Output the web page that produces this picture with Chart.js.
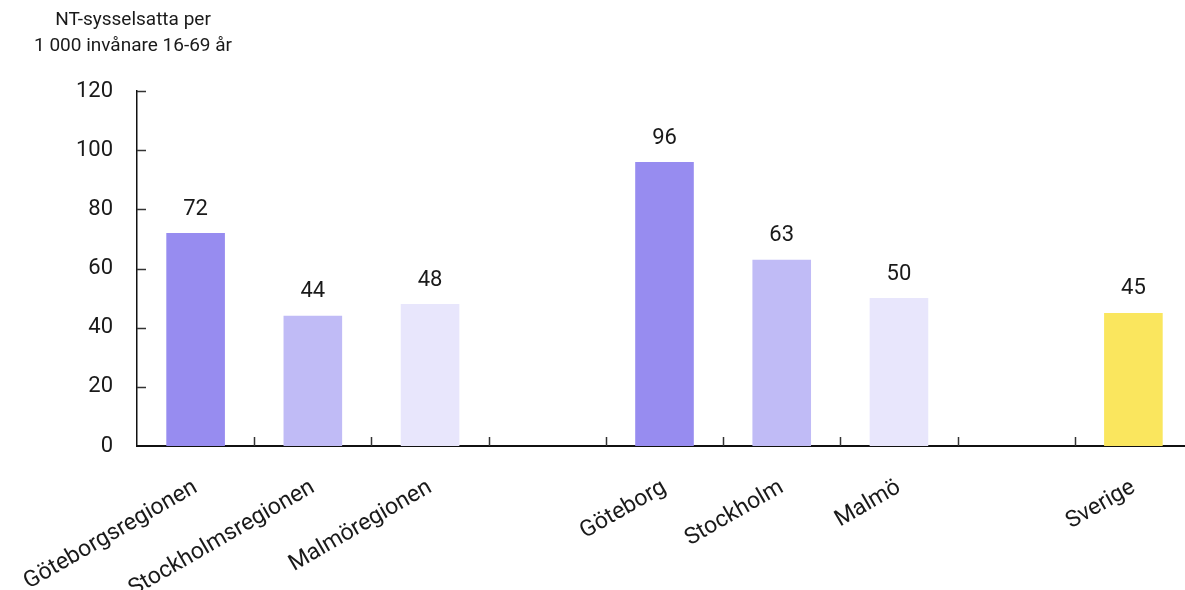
<!DOCTYPE html>
<html>
<head>
<meta charset="utf-8">
<script src="https://cdn.jsdelivr.net/npm/chart.js@4/dist/chart.umd.min.js"></script>
<style>
html,body{margin:0;padding:0;background:#fff;overflow:hidden;}
#wrap{position:relative;width:1192px;height:590px;}
</style>
</head>
<body>
<div id="wrap"><canvas id="c" width="1192" height="590"></canvas></div>
<script>
const categories = ['Göteborgsregionen','Stockholmsregionen','Malmöregionen','','Göteborg','Stockholm','Malmö','','Sverige'];
const values = [72, 44, 48, null, 96, 63, 50, null, 45];
const barColors = ['#978cf0','#c0bbf6','#e8e6fc',null,'#978cf0','#c0bbf6','#e8e6fc',null,'#fae65e'];
const yTitle = ['NT-sysselsatta per','1 000 invånare 16-69 år'];
const yMin = 0, yMax = 120, yStep = 20;

const FONT = 'Roboto';
const TEXT = '#1a1a1a';

const innerTicks = {
  id: 'innerTicks',
  afterDraw(chart) {
    const ctx = chart.ctx, x = chart.scales.x, y = chart.scales.y;
    ctx.save();
    ctx.strokeStyle = '#333';
    ctx.lineWidth = 1.5;
    const left = chart.chartArea.left, bottom = chart.chartArea.bottom;
    y.ticks.forEach(t => {
      if (t.value === yMin) return;
      const py = Math.round(y.getPixelForValue(t.value)) + 0.5;
      ctx.beginPath(); ctx.moveTo(left, py); ctx.lineTo(left + 9, py); ctx.stroke();
    });
    const n = categories.length;
    for (let i = 0; i < n; i++) {
      const a = x.getPixelForValue(i), b = x.getPixelForValue(i + 1 < n ? i + 1 : i);
      const half = (i + 1 < n) ? (b - a) / 2 : (a - x.getPixelForValue(i - 1)) / 2;
      const px = Math.round(a + half) + 0.5;
      ctx.beginPath(); ctx.moveTo(px, bottom); ctx.lineTo(px, bottom - 9); ctx.stroke();
    }
    ctx.restore();
  }
};

const valueLabels = {
  id: 'valueLabels',
  afterDatasetsDraw(chart) {
    const ctx = chart.ctx;
    const meta = chart.getDatasetMeta(0);
    ctx.save();
    ctx.font = '22px ' + FONT;
    ctx.fillStyle = TEXT;
    ctx.textAlign = 'center';
    ctx.textBaseline = 'bottom';
    meta.data.forEach((el, i) => {
      const v = values[i];
      if (v === null || v === undefined) return;
      ctx.fillText(String(v), el.x, el.y - 13);
    });
    ctx.restore();
  }
};

const titlePlugin = {
  id: 'yTitle',
  afterDraw(chart) {
    const ctx = chart.ctx;
    ctx.save();
    ctx.font = '19px ' + FONT;
    ctx.fillStyle = TEXT;
    ctx.textAlign = 'center';
    ctx.textBaseline = 'middle';
    yTitle.forEach((line, i) => ctx.fillText(line, 133, 20 + i * 26));
    ctx.restore();
  }
};

new Chart(document.getElementById('c'), {
  type: 'bar',
  data: {
    labels: categories,
    datasets: [{
      data: values,
      backgroundColor: barColors,
      borderWidth: 0,
      barPercentage: 1,
      categoryPercentage: 0.5
    }]
  },
  options: {
    responsive: false,
    animation: false,
    layout: { padding: { top: 91, right: 0, left: 0, bottom: 0 } },
    plugins: { legend: { display: false }, tooltip: { enabled: false }, title: { display: false } },
    scales: {
      x: {
        grid: { display: false, drawTicks: false },
        border: { display: true, color: '#111', width: 2 },
        ticks: {
          autoSkip: false, maxRotation: 30, minRotation: 30, padding: 28,
          color: TEXT, font: { family: FONT, size: 23 }
        },
        afterFit(s) { s.height = 144; s.paddingLeft = 0; s.paddingRight = 0; }
      },
      y: {
        min: yMin, max: yMax,
        grid: { display: false, drawTicks: false },
        border: { display: true, color: '#111', width: 1.5 },
        ticks: { stepSize: yStep, padding: 24, color: TEXT, font: { family: FONT, size: 22 } },
        afterFit(s) { s.width = 137; }
      }
    }
  },
  plugins: [innerTicks, valueLabels, titlePlugin]
});
</script>
</body>
</html>
